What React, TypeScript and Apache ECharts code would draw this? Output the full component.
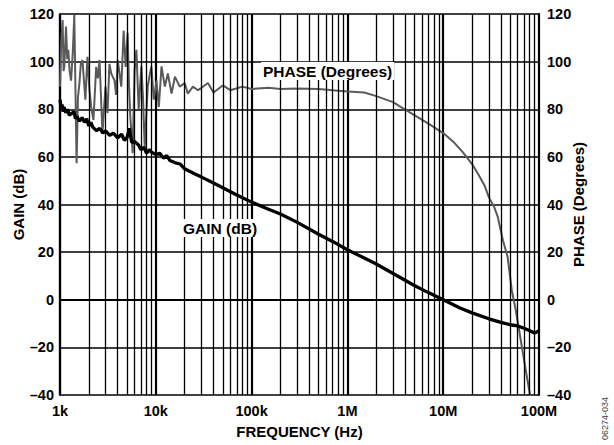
import React, { useEffect, useRef } from "react";
import * as echarts from "echarts";

const gainFreq = [1000, 1030, 1050, 1080, 1100, 1150, 1200, 1250, 1300, 1400, 1450, 1500, 1600, 1700, 1800, 1900, 2000, 2100, 2200, 2400, 2600, 2800, 3000, 3300, 3600, 4000, 4400, 4700, 5000, 5300, 5600, 6000, 6600, 7000, 7500, 8000, 8500, 9000, 10000, 11000, 12000, 13000, 14000, 16000, 18000, 20000, 25000, 30000, 40000, 50000, 70000, 100000, 150000, 200000, 300000, 500000, 700000, 1e6, 1.5e6, 2e6, 3e6, 5e6, 7e6, 1e7, 1.5e7, 2e7, 3e7, 4e7, 5e7, 6e7, 7e7, 8e7, 9e7, 1e8];
const gainDb = [84, 80.5, 82, 79, 81, 78.5, 80, 77.5, 78, 79, 76, 77, 75, 76.5, 74.5, 76, 73, 74.5, 72.5, 71, 72, 70, 71, 69, 70, 68, 69.5, 67, 68, 72, 66, 66.5, 65, 63, 64, 61.5, 63, 62, 61, 61.5, 59.5, 60.5, 58.5, 57.5, 57, 55, 53, 51.5, 49, 47, 44, 41, 38, 36, 32.5, 27.5, 24.5, 21, 17.5, 15, 11, 6, 3, 0, -3.5, -5.5, -8, -9.5, -10.5, -11, -12, -13, -14, -13];

const phaseFreq = [1000, 1030, 1065, 1090, 1110, 1155, 1190, 1220, 1260, 1305, 1360, 1410, 1490, 1540, 1595, 1650, 1715, 1840, 1935, 2030, 2115, 2235, 2385, 2485, 2585, 2775, 2985, 3135, 3280, 3425, 3710, 3850, 4000, 4365, 4615, 4845, 5080, 5250, 5420, 5735, 6000, 6270, 6625, 7070, 7350, 7660, 8235, 8600, 9000, 9520, 10170, 10750, 11480, 12420, 13360, 14600, 15830, 17780, 20050, 21550, 24400, 27500, 30000, 35000, 40000, 50000, 60000, 80000, 100000, 150000, 200000, 300000, 500000, 700000, 1e6, 1.5e6, 2e6, 3e6, 3.6e6, 5e6, 7e6, 1e7, 1.3e7, 1.6e7, 2e7, 2.3e7, 2.7e7, 3e7, 3.4e7, 3.7e7, 4.2e7, 4.7e7, 5.2e7, 5.7e7, 6.2e7, 6.7e7, 7.3e7, 7.9e7, 8.1e7];
const phaseDeg = [89.5, 108, 117.5, 96, 98, 114.7, 101, 105, 96, 92, 104, 119.6, 57.3, 85, 91, 99, 100.7, 84, 102, 88, 81, 75.5, 97.8, 93, 100.7, 70, 89.5, 78.4, 99, 95, 92, 86, 100.7, 89.5, 113, 97.8, 112, 90, 77, 61.5, 96, 105, 80, 98, 85, 64, 89.5, 94, 98, 84, 92, 81, 98, 89.5, 95, 86.6, 93.7, 89.5, 91, 86.6, 89.5, 88, 89, 91, 87, 90, 88, 89.5, 88.5, 89, 88.5, 88.7, 88.5, 88, 87.5, 87, 85.5, 83, 81, 77.5, 74, 70, 66, 62, 57, 53, 48, 43, 39, 35, 25, 18, 4, -4, -12.7, -21, -30, -38, -40.5];

const yTicks = [-40, -20, 0, 20, 40, 60, 80, 100, 120];
const xTickLabels = ["1k", "10k", "100k", "1M", "10M", "100M"];

const FONT = "'Liberation Sans', Arial, sans-serif";

export default function App() {
  const ref = useRef<HTMLDivElement>(null);
  useEffect(() => {
    if (!ref.current) return;
    const chart = echarts.init(ref.current, undefined, { renderer: "svg" });
    const minorLines: any[] = [];
    for (let d = 3; d < 8; d++) {
      for (let m = 2; m <= 9; m++) minorLines.push({ xAxis: m * Math.pow(10, d) });
    }
    const fmtY = (v: number) => (v < 0 ? "\u2013" + Math.abs(v) : String(v));
    const axisLabelBase = { fontFamily: FONT, fontWeight: "bold", fontSize: 14.5, color: "#000" };
    chart.setOption({
      animation: false,
      grid: { left: 60, right: 75, top: 14, bottom: 50, containLabel: false, outerBoundsMode: "none" },
      xAxis: {
        type: "log",
        logBase: 10,
        min: 1000,
        max: 1e8,
        name: "FREQUENCY (Hz)",
        nameLocation: "middle",
        nameGap: 29,
        nameMoveOverlap: false,
        nameTextStyle: { ...axisLabelBase, fontSize: 15 },
        axisLine: { show: true, lineStyle: { color: "#000", width: 2 } },
        axisTick: { show: false },
        axisLabel: {
          ...axisLabelBase,
          margin: 8,
          formatter: (v: number) => xTickLabels[Math.round(Math.log10(v)) - 3] ?? "",
        },
        splitLine: { show: true, lineStyle: { color: "#000", width: 2.2 } },
        minorSplitLine: { show: false },
      },
      yAxis: [
        {
          type: "value",
          min: yTicks[0],
          max: yTicks[yTicks.length - 1],
          interval: 20,
          name: "GAIN (dB)",
          nameLocation: "middle",
          nameRotate: 90,
          nameGap: 34,
          nameMoveOverlap: false,
          nameTextStyle: { ...axisLabelBase, fontSize: 15 },
          axisLine: { show: true, lineStyle: { color: "#000", width: 2 } },
          axisTick: { show: false },
          axisLabel: { ...axisLabelBase, margin: 6, formatter: fmtY },
          splitLine: { show: true, lineStyle: { color: "#000", width: 1.5 } },
        },
        {
          type: "value",
          min: yTicks[0],
          max: yTicks[yTicks.length - 1],
          interval: 20,
          position: "right",
          name: "PHASE (Degrees)",
          nameLocation: "middle",
          nameRotate: 90,
          nameGap: 32,
          nameMoveOverlap: false,
          nameTextStyle: { ...axisLabelBase, fontSize: 15 },
          axisLine: { show: true, lineStyle: { color: "#000", width: 2 } },
          axisTick: { show: false },
          axisLabel: { ...axisLabelBase, margin: 8, formatter: fmtY },
          splitLine: { show: false },
        },
      ],
      series: [
        {
          type: "line",
          data: [],
          z: 1,
          silent: true,
          markLine: {
            silent: true,
            symbol: "none",
            label: { show: false },
            lineStyle: { color: "#000", width: 1.3, type: "solid" },
            data: minorLines,
          },
        },
        {
          name: "PHASE",
          type: "line",
          yAxisIndex: 1,
          z: 3,
          showSymbol: false,
          data: phaseFreq.map((f, i) => [f, phaseDeg[i]]),
          lineStyle: { color: "#5a5a5a", width: 2 },
          clip: true,
        },
        {
          name: "GAIN",
          type: "line",
          yAxisIndex: 0,
          z: 4,
          showSymbol: false,
          data: gainFreq.map((f, i) => [f, gainDb[i]]),
          lineStyle: { color: "#000", width: 3.3 },
          clip: true,
        },
      ],
      graphic: [
        {
          type: "text",
          left: 261,
          top: 62,
          z: 10,
          style: {
            text: "PHASE (Degrees)",
            font: "bold 15.5px " + FONT,
            fill: "#000",
            backgroundColor: "#fff",
            padding: [1, 2],
          },
        },
        {
          type: "text",
          left: 181,
          top: 219,
          z: 10,
          style: {
            text: "GAIN (dB)",
            font: "bold 15.5px " + FONT,
            fill: "#000",
            backgroundColor: "#fff",
            padding: [1, 2],
          },
        },
        {
          type: "text",
          x: 600,
          y: 440,
          rotation: Math.PI / 2,
          style: {
            text: "06274-034",
            font: "9px " + FONT,
            fill: "#444",
            textAlign: "left",
            textVerticalAlign: "top",
          },
        },
      ],
    });
    return () => chart.dispose();
  }, []);
  return <div ref={ref} style={{ width: 614, height: 445, position: "absolute", left: 0, top: 0 }} />;
}
